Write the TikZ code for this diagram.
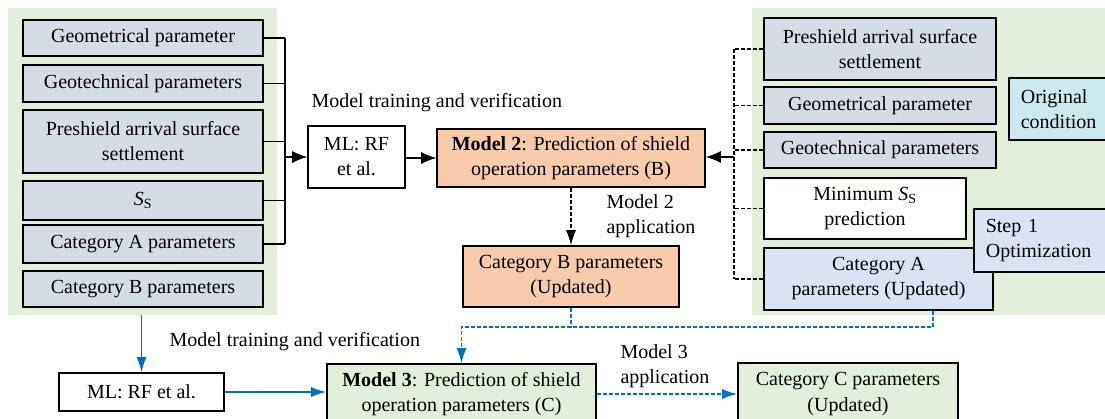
\documentclass[tikz,border=0pt]{standalone}
\usepackage{fontspec}
\setmainfont{Liberation Serif}
\usetikzlibrary{arrows.meta}

\definecolor{panelgreen}{HTML}{E2EFDA}
\definecolor{inputgray}{HTML}{D6DCE5}
\definecolor{modelsalmon}{HTML}{F8CBAD}
\definecolor{paleblue}{HTML}{DAE3F3}
\definecolor{palecyan}{HTML}{CBE9EE}
\definecolor{flowblue}{HTML}{0070C0}

\tikzset{
  txt/.style={font=\fontsize{20}{25}\selectfont},
  box/.style={txt, draw=black, line width=1.6pt, align=center, inner sep=1pt},
  graybox/.style={box, fill=inputgray},
  sidebox/.style={box, align=left, inner xsep=12pt, anchor=west},
  wire/.style={draw=black, line width=1.1pt},
  tip/.style={-{Latex[length=15pt,width=10pt]}},
  widetip/.style={-{Latex[length=15pt,width=12pt]}},
  blackdash/.style={draw=black, line width=1.1pt, dash pattern=on 4pt off 2pt},
  bluesolid/.style={draw=flowblue, line width=1.4pt},
  bluedash/.style={draw=flowblue, line width=1.4pt, dash pattern=on 4pt off 2pt},
}

\begin{document}
\begin{tikzpicture}[x=1pt, y=-1pt]
\useasboundingbox (0,0) rectangle (1105,418);

% background panels
\fill[panelgreen] (8,8) rectangle (277,315);
\fill[panelgreen] (752,8) rectangle (1110,315);

% input parameters (left)
\node[graybox, minimum width=240pt, minimum height=36pt] (L1) at (143,38) {Geometrical parameter};
\node[graybox, minimum width=240pt, minimum height=37pt] (L2) at (143,83.5) {Geotechnical parameters};
\node[graybox, minimum width=240pt, minimum height=63pt] (L3) at (143,141.5) {Preshield arrival surface\\settlement};
\node[graybox, minimum width=240pt, minimum height=39pt] (L4) at (143,200.5) {\textit{S}\textsubscript{S}};
\node[graybox, minimum width=240pt, minimum height=38pt] (L5) at (143,244) {Category A parameters};
\node[graybox, minimum width=240pt, minimum height=36pt] (L6) at (143,289) {Category B parameters};

% machine learning and model 2
\node[box, fill=white, minimum width=97pt, minimum height=62pt] (ML1) at (356.5,157) {ML: RF\\et al.};
\node[box, fill=modelsalmon, minimum width=268pt, minimum height=58pt] (M2) at (571,158) {\textbf{Model 2}: Prediction of shield\\operation parameters (B)};
\node[box, fill=modelsalmon, minimum width=216pt, minimum height=61pt] (CB) at (571,276.5) {Category B parameters\\(Updated)};

\node[txt, anchor=west] (trainB) at (308,103) {Model training and verification};
\node[txt, anchor=west, align=left] (appB) at (603,216) {Model 2\\application};

% optimisation inputs (right)
\node[graybox, minimum width=232pt, minimum height=62pt] (R1) at (880,49) {Preshield arrival surface\\settlement};
\node[graybox, minimum width=232pt, minimum height=37pt] (R2) at (880,105.5) {Geometrical parameter};
\node[graybox, minimum width=232pt, minimum height=36pt] (R3) at (880,150) {Geotechnical parameters};
\node[box, fill=white, minimum width=202pt, minimum height=61pt] (R4) at (865,208.5) {Minimum \textit{S}\textsubscript{S}\\prediction};
\node[box, fill=paleblue, minimum width=229pt, minimum height=62pt] (R5) at (878.5,279) {Category A\\parameters (Updated)};
\node[sidebox, fill=palecyan, text width=100pt, minimum height=62pt] (orig) at (1008,109) {Original\\condition};
\node[sidebox, fill=paleblue, text width=150pt, minimum height=63pt] (opt) at (973,240.5) {Step 1\\Optimization};

% model 3 stage
\node[box, fill=white, minimum width=165pt, minimum height=38pt] (ML2) at (141.5,392) {ML: RF et al.};
\node[box, fill=panelgreen, minimum width=269pt, minimum height=61pt] (M3) at (461.5,394.5) {\textbf{Model 3}: Prediction of shield\\operation parameters (C)};
\node[box, fill=panelgreen, minimum width=220pt, minimum height=62pt] (CC) at (848,394) {Category C parameters\\(Updated)};

\node[txt, anchor=west] (trainC) at (166,342) {Model training and verification};
\node[txt, anchor=west, align=left] (appC) at (617,366) {Model 3\\application};

% left collector into ML
\coordinate (busL) at (285,157);
\foreach \n in {L1,L2,L3,L4,L5}
  \draw[wire] (\n.east) -- (\n.east -| busL);
\draw[wire] (L1.east -| busL) -- (L5.east -| busL);
\draw[wire, widetip] (busL) -- (ML1.west);
\draw[wire, widetip] (ML1.east |- M2.west) -- (M2.west);
\draw[blackdash, tip] (M2.south) -- (CB.north);

% right collector into model 2
\coordinate (busR) at (734,157);
\foreach \n in {R1,R2,R3,R4,R5}
  \draw[blackdash] (\n.west) -- (\n.west -| busR);
\draw[blackdash] (R1.west -| busR) -- (R5.west -| busR);
\draw[wire, line width=1.4pt, widetip] (busR) -- (busR -| M2.east);

% model 3 flows
\draw[bluesolid, tip] (ML2.north |- 0,315) -- (ML2.north);
\draw[bluesolid, tip] (ML2.east) -- (M3.west |- ML2.east);
\coordinate (join) at (571,327);
\draw[bluedash] (CB.south) -- (join);
\draw[bluedash, tip] ([xshift=54.5pt]R5.south) |- (join) -| (M3.north);
\draw[bluedash, tip] (M3.east |- CC.west) -- (CC.west);

\end{tikzpicture}
\end{document}
